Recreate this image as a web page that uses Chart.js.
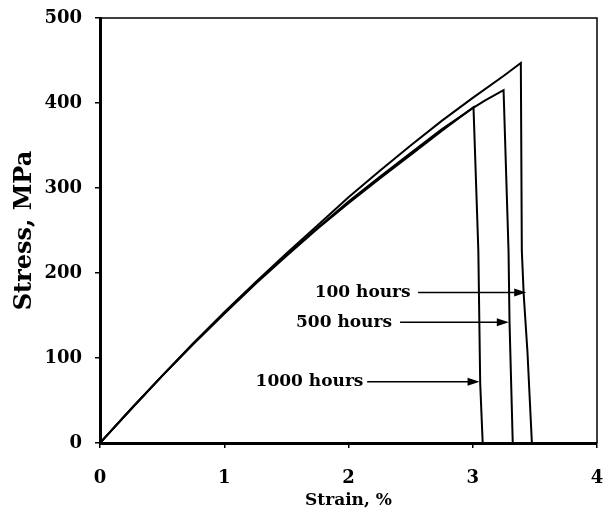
<!DOCTYPE html>
<html>
<head>
<meta charset="utf-8">
<script src="https://cdn.jsdelivr.net/npm/chart.js@4.4.1/dist/chart.umd.min.js"></script>
<style>
  html, body { margin: 0; padding: 0; background: #ffffff; }
  #wrap { width: 609px; height: 520px; }
</style>
</head>
<body>
<div id="wrap"><canvas id="c" width="609" height="520"></canvas></div>
<script>
// ---- data ----
const strain100 = [0, 0.1, 0.25, 0.5, 0.75, 1.0, 1.25, 1.5, 1.75, 2.0, 2.25, 2.5, 2.75, 3.0, 3.25, 3.387, 3.395, 3.41, 3.44, 3.476];
const stress100 = [0, 16, 40, 79, 117, 154, 189, 223, 256, 289, 320, 350, 379, 406, 432, 447, 226, 175, 108, 0];

const strain500 = [0, 0.1, 0.25, 0.5, 0.75, 1.0, 1.25, 1.5, 1.75, 2.0, 2.25, 2.5, 2.75, 3.0, 3.1, 3.248, 3.288, 3.296, 3.322];
const stress500 = [0, 16, 40, 79, 117, 153, 188, 221, 253, 284, 313, 341, 369, 394, 403, 415, 226, 142, 0];

const strain1000 = [0, 0.1, 0.25, 0.5, 0.75, 1.0, 1.25, 1.5, 1.75, 2.0, 2.25, 2.5, 2.75, 3.006, 3.045, 3.06, 3.08];
const stress1000 = [0, 16, 40, 79, 116, 152, 187, 220, 252, 282, 311, 339, 367, 395, 226, 70, 0];

const seriesNames = ['100 hours', '500 hours', '1000 hours'];

// annotation labels: text, stress level, label right end strain, arrow start strain, arrow tip strain
const labelTexts   = ['100 hours', '500 hours', '1000 hours'];
const labelStress  = [177, 142, 72];
const labelEnd     = [2.50, 2.35, 2.12];
const arrowFrom    = [2.56, 2.415, 2.15];
const arrowTo      = [3.43, 3.29, 3.055];

const xTicks = [0, 1, 2, 3, 4];
const yTicks = [0, 100, 200, 300, 400, 500];

// ---- build ----
const toPts = (xs, ys) => xs.map((x, i) => ({ x: x, y: ys[i] }));
const SERIF = "'DejaVu Serif', 'Liberation Serif', serif";

const lineStyle = { borderColor: '#000', borderWidth: 2, pointRadius: 0, tension: 0, fill: false };

const frameAndLabels = {
  id: 'frameAndLabels',
  afterDatasetsDraw(chart) {
    const { ctx, chartArea: a, scales: { x, y } } = chart;
    ctx.save();
    // top and right frame
    ctx.strokeStyle = '#000';
    ctx.lineWidth = 1.5;
    ctx.beginPath();
    ctx.moveTo(a.left, a.top);
    ctx.lineTo(a.right, a.top);
    ctx.lineTo(a.right, a.bottom);
    ctx.stroke();
    // annotations
    ctx.font = "bold 17px " + SERIF;
    ctx.fillStyle = '#000';
    ctx.textAlign = 'right';
    ctx.textBaseline = 'middle';
    for (let i = 0; i < labelTexts.length; i++) {
      const py = y.getPixelForValue(labelStress[i]);
      ctx.fillText(labelTexts[i], x.getPixelForValue(labelEnd[i]), py);
      const x0 = x.getPixelForValue(arrowFrom[i]);
      const x1 = x.getPixelForValue(arrowTo[i]);
      ctx.lineWidth = 1.6;
      ctx.beginPath();
      ctx.moveTo(x0, py);
      ctx.lineTo(x1 - 8, py);
      ctx.stroke();
      ctx.beginPath();
      ctx.moveTo(x1, py);
      ctx.lineTo(x1 - 12, py - 4);
      ctx.lineTo(x1 - 12, py + 4);
      ctx.closePath();
      ctx.fill();
    }
    ctx.restore();
  }
};

new Chart(document.getElementById('c'), {
  type: 'line',
  data: {
    datasets: [
      Object.assign({ label: seriesNames[0], data: toPts(strain100, stress100) }, lineStyle),
      Object.assign({ label: seriesNames[1], data: toPts(strain500, stress500) }, lineStyle),
      Object.assign({ label: seriesNames[2], data: toPts(strain1000, stress1000) }, lineStyle)
    ]
  },
  options: {
    responsive: false,
    animation: false,
    devicePixelRatio: 1,
    layout: { padding: { top: 18, right: 12, left: 0, bottom: 0 } },
    plugins: { legend: { display: false }, tooltip: { enabled: false } },
    scales: {
      x: {
        type: 'linear',
        min: xTicks[0], max: xTicks[xTicks.length - 1],
        afterBuildTicks: s => { s.ticks = xTicks.map(v => ({ value: v })); },
        afterFit: s => { s.height = 77; s.paddingLeft = 0; s.paddingRight = 0; },
        ticks: { color: '#000', font: { family: SERIF, size: 18, weight: 'bold' }, padding: 20, maxRotation: 0 },
        grid: { display: true, drawOnChartArea: false, drawTicks: true, tickLength: 5, color: '#000', lineWidth: 1.5 },
        border: { display: true, color: '#000', width: 3 },
        title: { display: true, text: 'Strain, %', color: '#000', font: { family: SERIF, size: 17, weight: 'bold' }, padding: { top: 0, bottom: 9 } }
      },
      y: {
        type: 'linear',
        min: yTicks[0], max: yTicks[yTicks.length - 1],
        afterBuildTicks: s => { s.ticks = yTicks.map(v => ({ value: v })); },
        afterFit: s => { s.width = 100; s.paddingTop = 0; s.paddingBottom = 0; },
        ticks: { color: '#000', font: { family: SERIF, size: 18, weight: 'bold' }, padding: 13 },
        grid: { display: true, drawOnChartArea: false, drawTicks: true, tickLength: 5, color: '#000', lineWidth: 1.5 },
        border: { display: true, color: '#000', width: 3 },
        title: { display: true, text: 'Stress, MPa', color: '#000', font: { family: SERIF, size: 24, weight: 'bold' }, padding: { top: 10, bottom: 0 } }
      }
    }
  },
  plugins: [frameAndLabels]
});
</script>
</body>
</html>
